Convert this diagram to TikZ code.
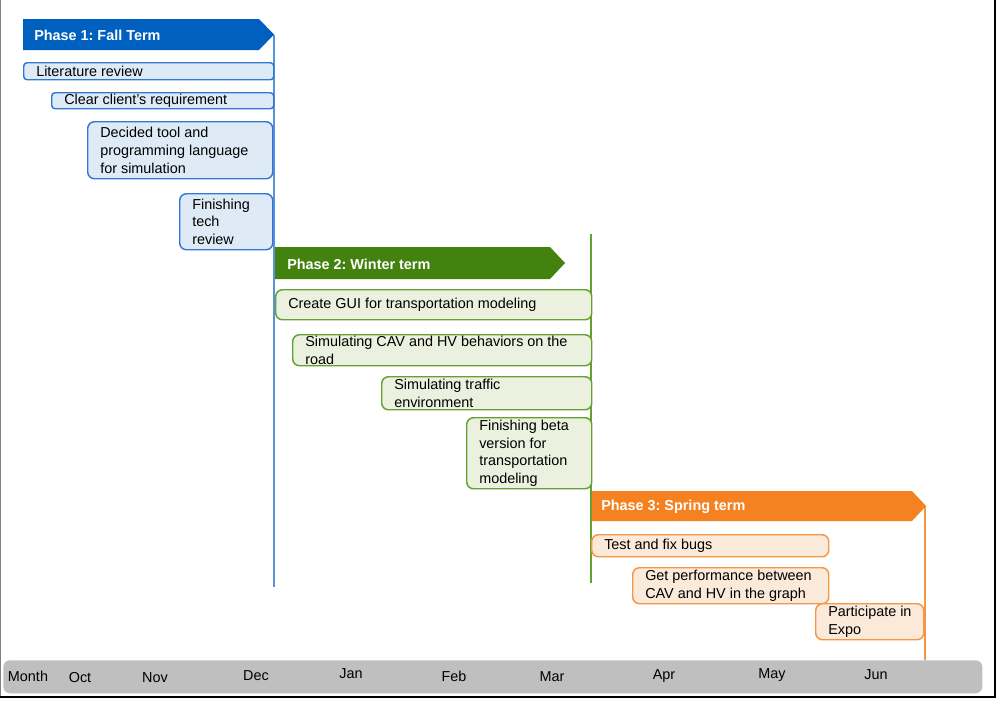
\documentclass[tikz,border=0pt]{standalone}
\usepackage{fontspec}
\setmainfont{Liberation Sans}
\frenchspacing
\definecolor{fallcol}{RGB}{0,96,192}
\definecolor{fallfill}{RGB}{222,235,247}
\definecolor{fallline}{RGB}{50,120,210}
\definecolor{wintercol}{RGB}{67,130,15}
\definecolor{winterfill}{RGB}{235,241,222}
\definecolor{winterline}{RGB}{100,160,50}
\definecolor{springcol}{RGB}{245,130,32}
\definecolor{springfill}{RGB}{251,233,218}
\definecolor{springline}{RGB}{245,150,70}
\definecolor{barcol}{RGB}{191,191,191}
\def\fallarrow{(23,19) -- (259,19) -- (274,34.5) -- (259,50) -- (23,50) -- cycle}
\def\winterarrow{(275,247) -- (550,247) -- (565,263) -- (550,279) -- (275,279) -- cycle}
\def\springarrow{(590,491) -- (912,491) -- (926,506) -- (912,521) -- (590,521) -- cycle}
\tikzset{
  every node/.style={font=\fontsize{10.8pt}{13.4pt}\selectfont},
  taskbox/.style={draw, line width=1.1pt, rounded corners=5pt, anchor=north west, inner sep=0pt},
  fallbox/.style={taskbox, draw=fallline, fill=fallfill},
  winterbox/.style={taskbox, draw=winterline, fill=winterfill},
  springbox/.style={taskbox, draw=springline, fill=springfill},
  tasktext/.style={anchor=west, align=left, inner sep=0pt},
  phasetext/.style={anchor=west, text=white, inner sep=0pt, font=\fontsize{10.8pt}{13pt}\selectfont\bfseries},
  month/.style={inner sep=0pt}
}
\newcommand{\task}[7]{%
  \node[#1, minimum width=#5*0.75pt, minimum height=#6*0.75pt] (#2) at (#3,#4) {};
  \node[tasktext] (#2-text) at ([xshift=9.75pt]#2.west) {#7};
}

\begin{document}
\begin{tikzpicture}[x=0.75pt, y=-0.75pt]
  \useasboundingbox (0,0) rectangle (998,701);
  \draw[gray, line width=0.8pt] (0.5,0) -- (0.5,697);
  \draw[black, line width=1.5pt] (0,697) -- (995,697) -- (995,0);

  \draw[fallline!80, line width=0.8pt] (274,34.5) -- (274,587);
  \draw[winterline, line width=0.8pt] (591,234) -- (591,583);
  \draw[springline, line width=0.8pt] (925,506) -- (925,660);

  \fill[fallcol] \fallarrow;
  \node[phasetext] (phase1) at (34,35) {Phase 1: Fall Term};
  \task{fallbox, rounded corners=2.5pt}{litrev}{23}{62}{250}{17}{Literature review}
  \task{fallbox, rounded corners=2.5pt}{client}{51}{92}{222}{16}{Clear client’s requirement}
  \task{fallbox}{tool}{87}{121}{185}{57}{Decided tool and\\programming language\\for simulation}
  \task{fallbox}{techrev}{179}{193}{93}{56}{Finishing\\tech\\review}

  \fill[wintercol] \winterarrow;
  \node[phasetext] (phase2) at (287,264) {Phase 2: Winter term};
  \task{winterbox}{gui}{275}{289}{316}{30}{Create GUI for transportation modeling}
  \task{winterbox}{cav}{292}{334}{299}{31}{Simulating CAV and HV behaviors on the\\road}
  \task{winterbox}{traffic}{381}{376}{210}{33}{Simulating traffic\\environment}
  \task{winterbox}{beta}{466}{417}{125}{71}{Finishing beta\\version for\\transportation\\modeling}

  \fill[springcol] \springarrow;
  \node[phasetext] (phase3) at (601,507) {Phase 3: Spring term};
  \draw[winterline, line width=0.8pt] (591,491) -- (591,521);
  \task{springbox}{bugs}{591}{534}{237}{22}{Test and fix bugs}
  \task{springbox}{perf}{632}{567}{196}{36}{Get performance between\\CAV and HV in the graph}
  \task{springbox}{expo}{815}{603}{108}{36}{Participate in\\Expo}

  \node[fill=barcol, rounded corners=5pt, anchor=north west, inner sep=0pt,
        minimum width=979*0.75pt, minimum height=33*0.75pt] (bar) at (3,660) {};
  \foreach \m/\x/\y in {Month/28/676, Oct/80/678, Nov/155/678, Dec/256/676, Jan/351/674,
                        Feb/454/676, Mar/552/677, Apr/664/676, May/772/675, Jun/876/675}
    \node[month] (\m) at (\x,\y) {\m};
\end{tikzpicture}
\end{document}
